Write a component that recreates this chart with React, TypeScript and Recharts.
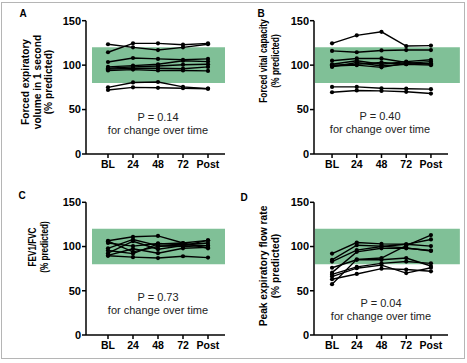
import React from 'react';
import { LineChart, Line, XAxis, YAxis, ReferenceArea } from 'recharts';

const timeLabels = ['BL', '24', '48', '72', 'Post'];
const yTicks = [0, 50, 100, 150];
const normalLow = 80;
const normalHigh = 120;

// one row per subject: BL, 24, 48, 72, Post
const fev1 = [
  [123.5, 120, 117, 120, 123.5],
  [114.5, 124.5, 124.5, 123, 124.5],
  [103.5, 108, 107, 106, 107],
  [98, 99.5, 101, 105, 104],
  [96.5, 98, 99, 100.5, 101],
  [95.5, 96.5, 96.5, 96, 98],
  [94, 95, 94, 94, 93.5],
  [75, 80.5, 81, 75.5, 73.5],
  [72, 75, 74.5, 74, 73.5],
];

const fvc = [
  [124.5, 133.5, 137.5, 121.5, 122],
  [116, 114.5, 116.5, 117, 117],
  [105, 107.5, 107.5, 103, 101],
  [101, 105, 101, 104, 106],
  [99, 100, 97.5, 102, 104],
  [98, 103, 99, 101, 100],
  [100, 101, 103, 101, 102],
  [75.5, 75.5, 74, 73.5, 73],
  [69.5, 71.5, 71, 70, 68],
];

const fev1Fvc = [
  [106.5, 111, 112, 104, 107],
  [104, 100.5, 103.5, 102, 104],
  [98, 108, 101, 100, 101],
  [95.5, 92, 103, 104, 98],
  [92.5, 106, 97, 101, 107],
  [89.5, 88, 87, 89, 87.5],
  [90, 97.5, 92.5, 98, 99],
  [106, 94, 100, 102, 101],
];

const pefr = [
  [57.5, 85.5, 87, 101, 113],
  [92, 104.5, 103, 102.5, 100.5],
  [85, 101.5, 100.5, 98.5, 95],
  [83, 96, 100, 102.5, 108],
  [76, 85, 85, 87, 78],
  [70.5, 94, 98, 98, 95.5],
  [68.5, 77, 81, 83, 81],
  [66, 75.5, 79, 70, 76],
  [63, 69, 75, 74, 72],
];

const toRows = (subjects: number[][]) =>
  timeLabels.map((label, i) => {
    const row: any = { x: i, label };
    subjects.forEach((s, k) => {
      row[`s${k}`] = s[i];
    });
    return row;
  });

const font = 'Arial, "Liberation Sans", sans-serif';
const GREEN = '#80c097';

type PanelProps = {
  left: number;
  top: number;
  width: number;
  height: number;
  plotTop: number;
  plotBottom: number;
  axisWidth: number;
  rightMargin: number;
  xDomain: [number, number];
  band: [number, number];
  subjects: number[][];
};

const Panel: React.FC<PanelProps> = (p) => {
  const data = toRows(p.subjects);
  const xHeight = 20;
  return (
    <div style={{ position: 'absolute', left: p.left, top: p.top }}>
      <LineChart
        width={p.width}
        height={p.height}
        data={data}
        margin={{ top: p.plotTop, right: p.rightMargin, left: 0, bottom: p.height - p.plotBottom - xHeight }}
      >
        <ReferenceArea
          x1={p.band[0]}
          x2={p.band[1]}
          y1={normalLow}
          y2={normalHigh}
          fill={GREEN}
          fillOpacity={1}
          stroke="none"
          ifOverflow="visible"
        />
        <XAxis
          type="number"
          dataKey="x"
          domain={p.xDomain}
          ticks={[0, 1, 2, 3, 4]}
          tickFormatter={(v: number) => timeLabels[v]}
          allowDataOverflow
          height={xHeight}
          stroke="#000"
          strokeWidth={1.5}
          tickSize={4}
          tickMargin={3}
          tick={{ fill: '#000', fontSize: 10.5, fontWeight: 700, fontFamily: font }}
        />
        <YAxis
          type="number"
          domain={[0, 150]}
          ticks={yTicks}
          width={p.axisWidth}
          stroke="#000"
          strokeWidth={1.5}
          tickSize={4}
          tickMargin={1}
          tick={{ fill: '#000', fontSize: 11, fontWeight: 700, fontFamily: font }}
        />
        {p.subjects.map((_, k) => (
          <Line
            key={k}
            type="linear"
            dataKey={`s${k}`}
            stroke="#000"
            strokeWidth={1.4}
            dot={{ r: 2.1, fill: '#000', stroke: '#000', strokeWidth: 0 }}
            isAnimationActive={false}
          />
        ))}
      </LineChart>
    </div>
  );
};

// rotated axis title; squeeze < 1 narrows the text along its own direction
const AxisTitle: React.FC<{ cx: number; cy: number; squeeze: number; lines: string[] }> = ({ cx, cy, squeeze, lines }) => (
  <div
    style={{
      position: 'absolute',
      left: cx,
      top: cy,
      transform: `translate(-50%, -50%) rotate(-90deg) scaleX(${squeeze})`,
      textAlign: 'center',
      whiteSpace: 'nowrap',
      fontFamily: font,
      fontWeight: 700,
      fontSize: 10.2,
      lineHeight: '11.7px',
      color: '#000',
    }}
  >
    {lines.map((l, i) => (
      <div key={i}>{l}</div>
    ))}
  </div>
);

const PText: React.FC<{ cx: number; cy: number; p: string }> = ({ cx, cy, p }) => (
  <div
    style={{
      position: 'absolute',
      left: cx,
      top: cy,
      transform: 'translate(-50%, 0)',
      textAlign: 'center',
      whiteSpace: 'nowrap',
      fontFamily: font,
      fontSize: 11,
      lineHeight: '13px',
      color: '#222',
    }}
  >
    <div>{`P = ${p}`}</div>
    <div>for change over time</div>
  </div>
);

const Letter: React.FC<{ x: number; y: number; t: string }> = ({ x, y, t }) => (
  <div
    style={{
      position: 'absolute',
      left: x,
      top: y,
      transform: 'translate(-50%, -50%)',
      fontFamily: font,
      fontWeight: 700,
      fontSize: 10,
      color: '#000',
    }}
  >
    {t}
  </div>
);

export default function App() {
  return (
    <div style={{ position: 'absolute', left: 0, top: 0, width: 467, height: 363, background: '#fff' }}>
      <div
        style={{
          position: 'absolute',
          left: 1,
          top: 2,
          width: 462,
          height: 355,
          border: '1px solid #b5b5b5',
        }}
      />
      <Panel left={0} top={0} width={232} height={180} plotTop={20.7} plotBottom={154} axisWidth={86}
        rightMargin={7} xDomain={[-0.88, 4.68]} band={[-0.64, 4.68]} subjects={fev1} />
      <Panel left={232} top={0} width={235} height={180} plotTop={20.7} plotBottom={154} axisWidth={82}
        rightMargin={19} xDomain={[-0.73, 4.69]} band={[-0.69, 5.17]} subjects={fvc} />
      <Panel left={0} top={180} width={232} height={183} plotTop={22.3} plotBottom={155} axisWidth={86}
        rightMargin={7} xDomain={[-0.88, 4.68]} band={[-0.64, 4.68]} subjects={fev1Fvc} />
      <Panel left={232} top={180} width={235} height={183} plotTop={22.3} plotBottom={155} axisWidth={82}
        rightMargin={19} xDomain={[-0.73, 4.69]} band={[-0.69, 5.17]} subjects={pefr} />

      <AxisTitle cx={38} cy={82} squeeze={1} lines={['Forced expiratory', 'volume in 1 second', '(% predicted)']} />
      <AxisTitle cx={270} cy={61} squeeze={0.83} lines={['Forced vital capacity', '(% predicted)']} />
      <AxisTitle cx={39} cy={247} squeeze={0.8} lines={['FEV1/FVC', '(% predicted)']} />
      <AxisTitle cx={270} cy={266} squeeze={1} lines={['Peak expiratory flow rate', '(% predicted)']} />

      <PText cx={158} cy={110.5} p="0.14" />
      <PText cx={380} cy={109.5} p="0.40" />
      <PText cx={158} cy={290.5} p="0.73" />
      <PText cx={381} cy={296.5} p="0.04" />

      <Letter x={23} y={13} t="A" />
      <Letter x={261} y={13} t="B" />
      <Letter x={22} y={195} t="C" />
      <Letter x={244} y={197} t="D" />
    </div>
  );
}
